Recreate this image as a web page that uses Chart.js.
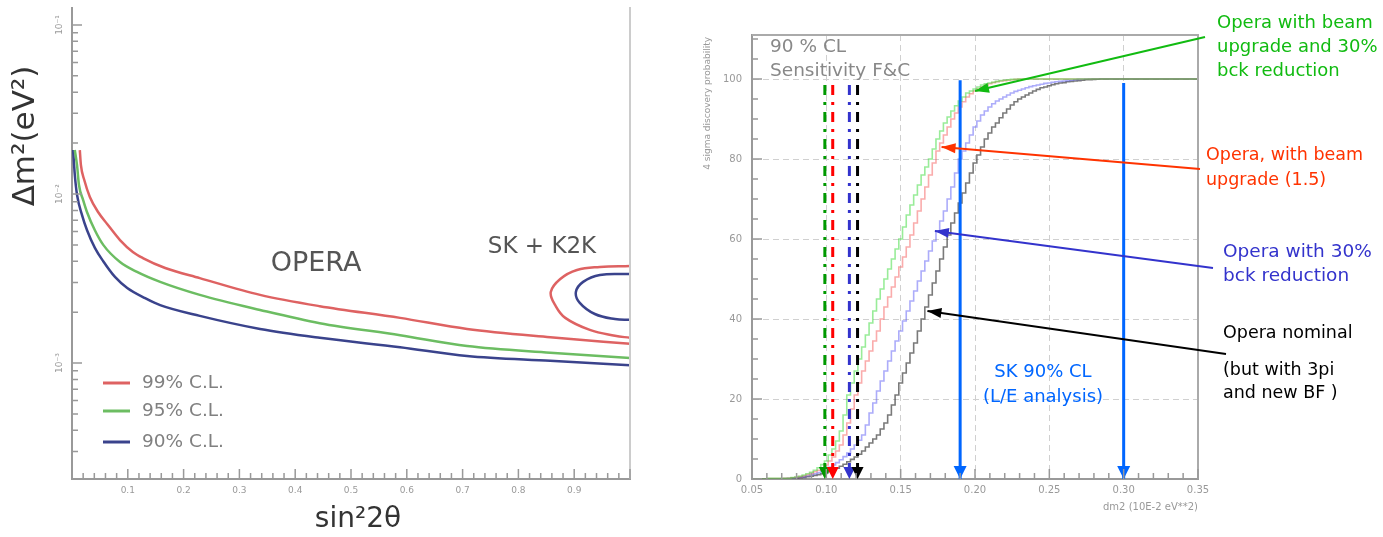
<!DOCTYPE html>
<html>
<head>
<meta charset="utf-8">
<title>OPERA sensitivity</title>
<script src="https://cdn.jsdelivr.net/npm/chart.js"></script>
<style>
  html, body { margin: 0; padding: 0; background: #fff; }
  body { width: 1383px; height: 537px; position: relative; overflow: hidden; }
  canvas { position: absolute; top: 0; }
  #left { left: 0; }
  #right { left: 660px; }
</style>
</head>
<body>
<canvas id="left" width="660" height="537"></canvas>
<canvas id="right" width="723" height="537"></canvas>
<script>
// ---- left plot: OPERA exclusion contours, sin^2(2theta) vs dm^2
const sin2X99 = [0.014, 0.016, 0.022, 0.032, 0.047, 0.063, 0.086, 0.109, 0.127, 0.167, 0.229, 0.337, 0.444, 0.588, 0.708, 0.857, 1.0];
const dm2Y99  = [0.0182, 0.0148, 0.0121, 0.0096, 0.0078, 0.00665, 0.00534, 0.00454, 0.00418, 0.00365, 0.00318, 0.00253, 0.00217, 0.00185, 0.00159, 0.00142, 0.00130];
const sin2X95 = [0.005, 0.009, 0.0125, 0.020, 0.027, 0.041, 0.056, 0.086, 0.1165, 0.158, 0.229, 0.337, 0.444, 0.588, 0.708, 0.857, 1.0];
const dm2Y95  = [0.0182, 0.0148, 0.0113, 0.0092, 0.0078, 0.0061, 0.0050, 0.00396, 0.00346, 0.00302, 0.00253, 0.00206, 0.00172, 0.00146, 0.00126, 0.00115, 0.00107];
const sin2X90 = [0.002, 0.005, 0.009, 0.018, 0.027, 0.041, 0.056, 0.077, 0.099, 0.131, 0.158, 0.229, 0.337, 0.444, 0.588, 0.708, 0.857, 1.0];
const dm2Y90  = [0.0182, 0.0130, 0.0099, 0.0075, 0.0061, 0.0048, 0.0040, 0.00323, 0.00278, 0.00242, 0.00220, 0.00190, 0.00159, 0.00141, 0.00124, 0.00110, 0.00103, 0.00097];
// SK + K2K allowed regions
const skRedX  = [1.0, 0.946, 0.905, 0.875, 0.858, 0.866, 0.884, 0.928, 0.973, 1.0];
const skRedY  = [0.00375, 0.00370, 0.00355, 0.00314, 0.00263, 0.00220, 0.00185, 0.00157, 0.00145, 0.00141];
const skBlueX = [1.0, 0.946, 0.916, 0.903, 0.910, 0.937, 0.973, 1.0];
const skBlueY = [0.00336, 0.00332, 0.00302, 0.00263, 0.00227, 0.00195, 0.00182, 0.00180];
const clLabels = ['99% C.L.', '95% C.L.', '90% C.L.'];
const decadeLabels = ['10\u207B\u00B9', '10\u207B\u00B2', '10\u207B\u00B3'];
const decadeValues = [1e-1, 1e-2, 1e-3];

// ---- right plot: 4 sigma discovery probability vs dm2 (bins of 0.0025)
const dm2Bins = [0.05,
  0.0700, 0.0725, 0.0750, 0.0775, 0.0800, 0.0825, 0.0850, 0.0875, 0.0900, 0.0925,
  0.0950, 0.0975, 0.1000, 0.1025, 0.1050, 0.1075, 0.1100, 0.1125, 0.1150, 0.1175,
  0.1200, 0.1225, 0.1250, 0.1275, 0.1300, 0.1325, 0.1350, 0.1375, 0.1400, 0.1425,
  0.1450, 0.1475, 0.1500, 0.1525, 0.1550, 0.1575, 0.1600, 0.1625, 0.1650, 0.1675,
  0.1700, 0.1725, 0.1750, 0.1775, 0.1800, 0.1825, 0.1850, 0.1875, 0.1900, 0.1925,
  0.1950, 0.1975, 0.2000, 0.2025, 0.2050, 0.2075, 0.2100, 0.2125, 0.2150, 0.2175,
  0.2200, 0.2225, 0.2250, 0.2275, 0.2300, 0.2325, 0.2350, 0.2375, 0.2400, 0.2425,
  0.2450, 0.2475, 0.2500, 0.2525, 0.2550, 0.2575, 0.2600, 0.2625, 0.2650, 0.2675,
  0.2700, 0.2725, 0.2750, 0.2775, 0.2800, 0.2825, 0.2850, 0.2875, 0.2900, 0.2925,
  0.2950, 0.2975, 0.3000,
  0.35];
// Opera with beam upgrade and 30% bck reduction
const probUpgradeBck = [0,
  0.15, 0.18, 0.2, 0.35, 0.5, 0.7, 1, 1.3, 1.7, 2.2,
  2.8, 3.6, 4.5, 6, 7.5, 9.5, 12, 16, 21, 24,
  27, 30, 33, 36, 39, 42, 45, 47.5, 50, 52.5,
  55, 57.5, 60, 63, 66, 68.5, 71, 73.5, 76, 78,
  80, 82.5, 85, 87, 89, 90.5, 92, 93.3, 94.5, 95.5,
  96.5, 97, 97.5, 98, 98.5, 98.8, 99, 99.2, 99.4, 99.6,
  99.7, 99.8, 99.9, 99.95, 100, 100, 100, 100, 100, 100,
  100, 100, 100, 100, 100, 100, 100, 100, 100, 100,
  100, 100, 100, 100, 100, 100, 100, 100, 100, 100,
  100, 100, 100,
  100];
// Opera with beam upgrade (1.5)
const probUpgrade = [0,
  0.12, 0.15, 0.2, 0.3, 0.4, 0.6, 0.8, 1.1, 1.4, 1.8,
  2.2, 2.8, 3.5, 4.5, 5.5, 7, 8.5, 11, 14, 17.5,
  21, 24, 27, 29.5, 32, 34.5, 37, 40, 43, 45.5,
  48, 50.5, 53, 55.5, 58, 61, 64, 67, 70, 73,
  76, 79, 82, 84, 86, 88, 90, 91.5, 93, 94.3,
  95.5, 96.3, 97, 97.5, 98, 98.4, 98.8, 99.1, 99.3, 99.5,
  99.6, 99.7, 99.8, 99.9, 100, 100, 100, 100, 100, 100,
  100, 100, 100, 100, 100, 100, 100, 100, 100, 100,
  100, 100, 100, 100, 100, 100, 100, 100, 100, 100,
  100, 100, 100,
  100];
// Opera with 30% bck reduction
const probBck = [0,
  0.08, 0.09, 0.1, 0.2, 0.3, 0.45, 0.6, 0.8, 1, 1.3,
  1.6, 2, 2.4, 2.9, 3.5, 4.1, 4.8, 5.6, 6.5, 7.5,
  8.5, 9.7, 11, 13.5, 16.5, 19, 22, 24.5, 27, 29.5,
  32, 34.5, 37, 39.5, 42, 44.5, 47, 49.5, 52, 54.5,
  57, 59.5, 62, 64.5, 67, 70, 73, 76.5, 80, 82,
  84, 86, 88, 89.5, 91, 92, 93, 93.8, 94.5, 95,
  95.5, 96, 96.5, 96.9, 97.2, 97.5, 97.8, 98.1, 98.3, 98.5,
  98.7, 98.9, 99, 99.2, 99.3, 99.4, 99.5, 99.6, 99.7, 99.8,
  99.9, 99.95, 100, 100, 100, 100, 100, 100, 100, 100,
  100, 100, 100,
  100];
// Opera nominal (3pi, new BF)
const probNominal = [0,
  0.06, 0.08, 0.1, 0.15, 0.2, 0.3, 0.4, 0.55, 0.7, 0.9,
  1.1, 1.3, 1.6, 1.9, 2.3, 2.7, 3.2, 3.7, 4.3, 4.9,
  5.5, 6.2, 7, 8, 9, 10, 11, 12.5, 14, 16,
  18.5, 21, 24, 26.5, 29, 31.5, 34, 37, 40, 43,
  46, 49, 52, 55, 58, 61, 64, 66.5, 69, 71.5,
  74, 76.5, 79, 81, 83, 85, 86.5, 88, 89, 90.3,
  91.5, 92.5, 93.5, 94.3, 95, 95.5, 96, 96.5, 97, 97.4,
  97.8, 98, 98.3, 98.6, 98.8, 99, 99.1, 99.3, 99.4, 99.5,
  99.6, 99.7, 99.8, 99.85, 99.9, 99.95, 100, 100, 100, 100,
  100, 100, 100,
  100];
// 90% CL sensitivities (F&C): beam+bck, beam, bck, nominal
const sensDm2 = [0.099, 0.1043, 0.1155, 0.121];
const sensTop = 98.5;
// SK 90% CL (L/E analysis)
const skLimits = [0.19, 0.30];
const skTop = [99.7, 99.0];
// where the label arrows point to on each curve
const pointerDm2 = [0.200, 0.1775, 0.173, 0.168];
const pointerProb = [97, 83, 62, 42];

Chart.defaults.font.family = "'DejaVu Sans', Verdana, sans-serif";
Chart.defaults.color = '#999';

const RIGHT_OFFSET = 660;

function pairs(xs, ys) { return xs.map((x, i) => ({ x: x, y: ys[i] })); }

function arrowHead(ctx, x1, y1, x2, y2, len, half, color) {
  const a = Math.atan2(y2 - y1, x2 - x1);
  const bx = x2 - len * Math.cos(a), by = y2 - len * Math.sin(a);
  ctx.save();
  ctx.fillStyle = color;
  ctx.beginPath();
  ctx.moveTo(x2, y2);
  ctx.lineTo(bx + half * Math.sin(a), by - half * Math.cos(a));
  ctx.lineTo(bx - half * Math.sin(a), by + half * Math.cos(a));
  ctx.closePath();
  ctx.fill();
  ctx.restore();
}

function innerTicks(chart, axis, values, isMajor) {
  const ctx = chart.ctx, s = chart.scales[axis], a = chart.chartArea;
  ctx.save();
  ctx.strokeStyle = '#999';
  ctx.lineWidth = 1.5;
  ctx.beginPath();
  values.forEach(v => {
    const len = isMajor(v) ? 10 : 6;
    const p = s.getPixelForValue(v);
    if (axis === 'x') { ctx.moveTo(p, a.bottom); ctx.lineTo(p, a.bottom - len); }
    else { ctx.moveTo(a.left, p); ctx.lineTo(a.left + len, p); }
  });
  ctx.stroke();
  ctx.restore();
}

function label(ctx, str, x, y, size, color, align, angle) {
  ctx.save();
  ctx.translate(x, y);
  if (angle) ctx.rotate(angle);
  ctx.font = size + "px 'DejaVu Sans', Verdana, sans-serif";
  ctx.fillStyle = color;
  ctx.textAlign = align || 'left';
  ctx.textBaseline = 'middle';
  ctx.fillText(str, 0, 0);
  ctx.restore();
}

// ================= left chart =================
const leftYMin = 2.06e-4, leftYMax = 0.126;
const curveColors = ['#de6262', '#6cbd62', '#3a438c'];

const leftDecor = {
  id: 'leftDecor',
  afterDraw(chart) {
    const ctx = chart.ctx, a = chart.chartArea, ys = chart.scales.y;
    // right frame line
    ctx.save();
    ctx.strokeStyle = '#ccc'; ctx.lineWidth = 2;
    ctx.beginPath(); ctx.moveTo(a.right, a.top - 1); ctx.lineTo(a.right, a.bottom); ctx.stroke();
    ctx.restore();

    const xt = [];
    for (let i = 0; i <= 50; i++) xt.push(i / 50);
    innerTicks(chart, 'x', xt, v => Math.abs(v * 10 - Math.round(v * 10)) < 1e-6);
    const yt = [];
    for (let e = -4; e <= -1; e++) {
      for (let m = 1; m <= 9; m++) {
        const v = m * Math.pow(10, e);
        if (v >= leftYMin && v <= leftYMax) yt.push(v);
      }
    }
    innerTicks(chart, 'y', yt, v => Math.abs(Math.log10(v) - Math.round(Math.log10(v))) < 1e-6);

    decadeValues.forEach((v, i) => {
      label(ctx, decadeLabels[i], a.left - 12, ys.getPixelForValue(v), 9, '#999', 'center', -Math.PI / 2);
    });

    label(ctx, 'OPERA', 316, 264, 27, '#555', 'center');
    label(ctx, 'SK + K2K', 542, 247, 23, '#555', 'center');
    label(ctx, '\u0394m\u00B2(eV\u00B2)', 26, 136, 31, '#333', 'center', -Math.PI / 2);
    label(ctx, 'sin\u00B22\u03B8', 358, 520, 28, '#333', 'center');

    // legend
    clLabels.forEach((t, i) => {
      const y = [383, 411, 442][i];
      ctx.save();
      ctx.strokeStyle = curveColors[i]; ctx.lineWidth = 3;
      ctx.beginPath(); ctx.moveTo(103, y); ctx.lineTo(130, y); ctx.stroke();
      ctx.restore();
      label(ctx, t, 142, y, 18.5, '#808080', 'left');
    });
  }
};

new Chart(document.getElementById('left'), {
  type: 'scatter',
  data: {
    datasets: [
      { label: clLabels[0], data: pairs(sin2X99, dm2Y99), borderColor: curveColors[0], cubicInterpolationMode: 'monotone' },
      { label: clLabels[1], data: pairs(sin2X95, dm2Y95), borderColor: curveColors[1], cubicInterpolationMode: 'monotone' },
      { label: clLabels[2], data: pairs(sin2X90, dm2Y90), borderColor: curveColors[2], cubicInterpolationMode: 'monotone' },
      { label: 'SK + K2K 99%', data: pairs(skRedX, skRedY), borderColor: curveColors[0], tension: 0.4 },
      { label: 'SK + K2K 90%', data: pairs(skBlueX, skBlueY), borderColor: curveColors[2], tension: 0.4 }
    ].map(d => Object.assign({ showLine: true, borderWidth: 2.5, pointRadius: 0, fill: false }, d))
  },
  options: {
    responsive: false,
    animation: false,
    layout: { padding: { top: 8, right: 30, left: 0, bottom: 0 } },
    plugins: { legend: { display: false }, tooltip: { enabled: false } },
    scales: {
      x: {
        type: 'linear', min: 0, max: 1,
        afterFit: s => { s.height = 58; },
        grid: { display: false, drawTicks: false },
        border: { color: '#999', width: 2 },
        ticks: {
          stepSize: 0.1, maxRotation: 0, padding: 6, color: '#999', font: { size: 9 },
          callback: v => (v > 0.01 && v < 0.99) ? v.toFixed(1) : ''
        }
      },
      y: {
        type: 'logarithmic', min: leftYMin, max: leftYMax,
        afterFit: s => { s.width = 72; },
        grid: { display: false, drawTicks: false },
        border: { color: '#999', width: 2 },
        ticks: { display: false }
      }
    }
  },
  plugins: [leftDecor]
});

// ================= right chart =================
const stepColors = ['rgba(70,220,70,0.55)', 'rgba(245,90,90,0.5)', 'rgba(90,90,245,0.5)', 'rgba(50,50,50,0.65)'];
const sensColors = ['#009900', '#ff0000', '#3333cc', '#000000'];
const pointerColors = ['#11bb11', '#ff3300', '#3333cc', '#000000'];
const pointerTails = [[1205, 37], [1200, 169], [1213, 268], [1226, 354]];
const skBlue = '#0066ff';

const rightNotes = [
  { lines: ['90 % CL', 'Sensitivity F&C'], x: 770, y: 47, dy: 24, color: '#888', size: 18.5 },
  { lines: ['Opera with beam', 'upgrade and 30%', 'bck reduction'], x: 1217, y: 23, dy: 24, color: pointerColors[0], size: 18 },
  { lines: ['Opera, with beam', 'upgrade (1.5)'], x: 1206, y: 155, dy: 25, color: pointerColors[1], size: 17.5 },
  { lines: ['Opera with 30%', 'bck reduction'], x: 1223, y: 252, dy: 24, color: pointerColors[2], size: 18.5 },
  { lines: ['Opera nominal'], x: 1223, y: 333, dy: 24, color: '#000', size: 17.5 },
  { lines: ['(but with 3pi', 'and new BF )'], x: 1223, y: 370, dy: 23, color: '#000', size: 17.5 }
];

const rightDecor = {
  id: 'rightDecor',
  afterDatasetsDraw(chart) {
    const ctx = chart.ctx;
    chart.data.datasets.forEach((ds, i) => {
      if (!ds.arrowLen) return;
      const pts = chart.getDatasetMeta(i).data;
      const p = pts[pts.length - 2], q = pts[pts.length - 1];
      arrowHead(ctx, p.x, p.y, q.x, q.y, ds.arrowLen, ds.arrowHalf, ds.borderColor);
    });
  },
  afterDraw(chart) {
    const ctx = chart.ctx, a = chart.chartArea, xs = chart.scales.x, ys = chart.scales.y;
    // top and right frame
    ctx.save();
    ctx.strokeStyle = '#aaa'; ctx.lineWidth = 2;
    ctx.beginPath();
    ctx.moveTo(a.left, a.top); ctx.lineTo(a.right, a.top); ctx.lineTo(a.right, a.bottom);
    ctx.stroke();
    ctx.restore();

    const xt = [];
    for (let i = 5; i <= 35; i++) xt.push(i / 100);
    innerTicks(chart, 'x', xt, v => Math.round(v * 100) % 5 === 0);
    const yt = [];
    for (let v = 0; v <= 110; v += 5) yt.push(v);
    innerTicks(chart, 'y', yt, v => v % 20 === 0);

    // label pointers
    pointerDm2.forEach((d, i) => {
      const tx = xs.getPixelForValue(d), ty = ys.getPixelForValue(pointerProb[i]);
      const sx = pointerTails[i][0] - RIGHT_OFFSET, sy = pointerTails[i][1];
      ctx.save();
      ctx.strokeStyle = pointerColors[i]; ctx.lineWidth = 2;
      ctx.beginPath(); ctx.moveTo(sx, sy); ctx.lineTo(tx, ty); ctx.stroke();
      ctx.restore();
      arrowHead(ctx, sx, sy, tx, ty, 14, 5, pointerColors[i]);
    });

    rightNotes.forEach(n => {
      n.lines.forEach((t, k) => label(ctx, t, n.x - RIGHT_OFFSET, n.y + k * n.dy, n.size, n.color, 'left'));
    });
    label(ctx, 'SK 90% CL', 1043 - RIGHT_OFFSET, 372, 18, skBlue, 'center');
    label(ctx, '(L/E analysis)', 1043 - RIGHT_OFFSET, 397, 18, skBlue, 'center');

    label(ctx, '4 sigma discovery probability', 708 - RIGHT_OFFSET, 37, 9, '#999', 'right', -Math.PI / 2);
    label(ctx, 'dm2 (10E-2 eV**2)', a.right, 507, 10, '#999', 'right');
  }
};

const rightSets = [];
skLimits.forEach((x, i) => rightSets.push({
  label: 'SK 90% CL ' + x, data: [{ x: x, y: skTop[i] }, { x: x, y: 0 }],
  borderColor: skBlue, borderWidth: 3, arrowLen: 13, arrowHalf: 6.5
}));
sensDm2.forEach((x, i) => rightSets.push({
  label: 'sensitivity ' + i, data: [{ x: x, y: sensTop }, { x: x, y: 0 }],
  borderColor: sensColors[i], borderWidth: 3, borderDash: [10, 7, 3, 7], arrowLen: 12, arrowHalf: 6
}));
[probUpgradeBck, probUpgrade, probBck, probNominal].forEach((vals, i) => rightSets.push({
  label: 'curve ' + i, data: pairs(dm2Bins, vals),
  borderColor: stepColors[i], borderWidth: 1.6, stepped: 'middle'
}));

new Chart(document.getElementById('right'), {
  type: 'scatter',
  data: { datasets: rightSets.map(d => Object.assign({ showLine: true, pointRadius: 0, fill: false }, d)) },
  options: {
    responsive: false,
    animation: false,
    layout: { padding: { top: 35, right: 185, left: 0, bottom: 0 } },
    plugins: { legend: { display: false }, tooltip: { enabled: false } },
    scales: {
      x: {
        type: 'linear', min: 0.05, max: 0.35,
        afterFit: s => { s.height = 58; },
        grid: { color: '#d0d0d0', lineWidth: 1, drawTicks: false },
        border: { color: '#999', width: 2, dash: [6, 4] },
        ticks: { stepSize: 0.05, maxRotation: 0, padding: 5, color: '#999', font: { size: 10 } }
      },
      y: {
        type: 'linear', min: 0, max: 111,
        afterFit: s => { s.width = 92; },
        grid: { color: '#d0d0d0', lineWidth: 1, drawTicks: false },
        border: { color: '#999', width: 2, dash: [6, 4] },
        ticks: { stepSize: 20, includeBounds: false, padding: 10, color: '#999', font: { size: 10 } }
      }
    }
  },
  plugins: [rightDecor]
});
</script>
</body>
</html>
